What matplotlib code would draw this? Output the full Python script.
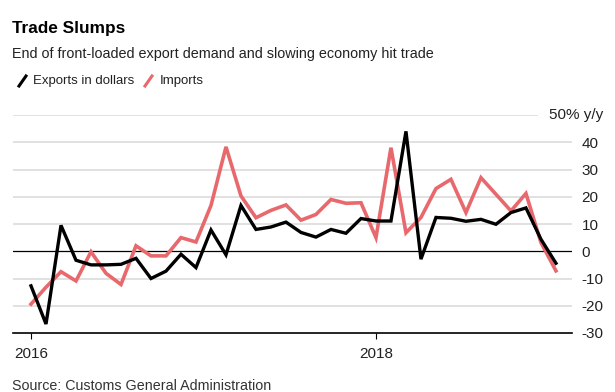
import matplotlib as mpl
mpl.use('Agg')
import matplotlib.pyplot as plt
from matplotlib.lines import Line2D

plt.rcParams['font.family'] = ['Liberation Sans', 'DejaVu Sans']

# monthly y/y change, Jan 2016 .. Dec 2018
exports = [-12.7, -26.7, 9.5, -3.3, -5.0, -5.0, -4.8, -2.6, -10.0, -7.3, -1.1, -6.0,
           7.8, -1.3, 16.8, 8.0, 8.9, 10.7, 6.9, 5.2, 8.0, 6.6, 12.0, 11.1,
           11.1, 44.0, -2.9, 12.4, 12.1, 11.0, 11.7, 9.9, 14.2, 15.9, 4.4, -4.4]
imports = [-19.4, -13.2, -7.5, -10.9, -0.2, -8.1, -12.2, 2.0, -1.7, -1.7, 5.0, 3.4,
           16.8, 38.3, 20.3, 12.3, 15.0, 17.0, 11.4, 13.5, 19.0, 17.6, 17.8, 5.0,
           38.0, 6.8, 12.4, 23.0, 26.4, 14.2, 27.0, 20.9, 14.8, 21.2, 3.2, -7.2]
yticks = [-30, -20, -10, 0, 10, 20, 30, 40]
xtick_pos = [0, 23]
xtick_labels = ['2016', '2018']

W, H = 615, 392
fig = plt.figure(figsize=(W / 100, H / 100), dpi=100)
ax = fig.add_axes([13 / W, 1 - 333 / H, (572 - 13) / W, (333 - 115) / H])

months = range(len(exports))

# grid
for v in [-20, -10, 10, 20, 30, 40]:
    ax.axhline(v, color='#dedede', lw=1.3, zorder=0)
ax.axhline(50, xmax=(537 - 13) / (572 - 13), color='#dedede', lw=1.3, zorder=0)
ax.axhline(0, color='black', lw=0.9, zorder=1)
ax.axhline(-30, color='black', lw=1.2, zorder=1, clip_on=False)

red = '#e8696d'
ax.plot(months, imports, color=red, lw=2.6, zorder=2, solid_joinstyle='miter')
ax.plot(months, exports, color='black', lw=2.4, zorder=3, solid_joinstyle='miter')

ax.set_xlim(-1.2, 36.07)
ax.set_ylim(-30, 50)
for s in ax.spines.values():
    s.set_visible(False)

ax.yaxis.tick_right()
ax.set_yticks(yticks)
ax.set_yticklabels([str(v) for v in yticks], fontsize=11, color='#222222', ha='left')
ax.tick_params(axis='y', length=0, pad=7)
ax.text(603 / W, 1 - 115 / H, '50% y/y', transform=fig.transFigure, ha='right',
        va='center', fontsize=11, color='#222222')

ax.set_xticks(xtick_pos)
ax.set_xticklabels(xtick_labels, fontsize=11, color='#222222')
ax.tick_params(axis='x', length=4, width=0.8, color='black', pad=6)

# header
fig.text(12 / W, 1 - 28 / H, 'Trade Slumps', fontsize=12.4, fontweight='bold', va='center')
fig.text(12 / W, 1 - 54 / H, 'End of front-loaded export demand and slowing economy hit trade',
         fontsize=10.4, color='#222222', va='center')

# legend with slash markers
def slash(x0, color):
    fig.add_artist(Line2D([x0 / W, (x0 + 7) / W], [1 - 86 / H, 1 - 76 / H],
                          color=color, lw=2.2, transform=fig.transFigure))

slash(19, 'black')
fig.text(33 / W, 1 - 81 / H, 'Exports in dollars', fontsize=9.5, color='#222222', va='center')
slash(145, red)
fig.text(160 / W, 1 - 81 / H, 'Imports', fontsize=9.5, color='#222222', va='center')

fig.text(12 / W, 1 - 390 / H, 'Source: Customs General Administration', fontsize=10.3,
         color='#333333', va='baseline')

fig.savefig('out.png', dpi=100)
plt.close()
